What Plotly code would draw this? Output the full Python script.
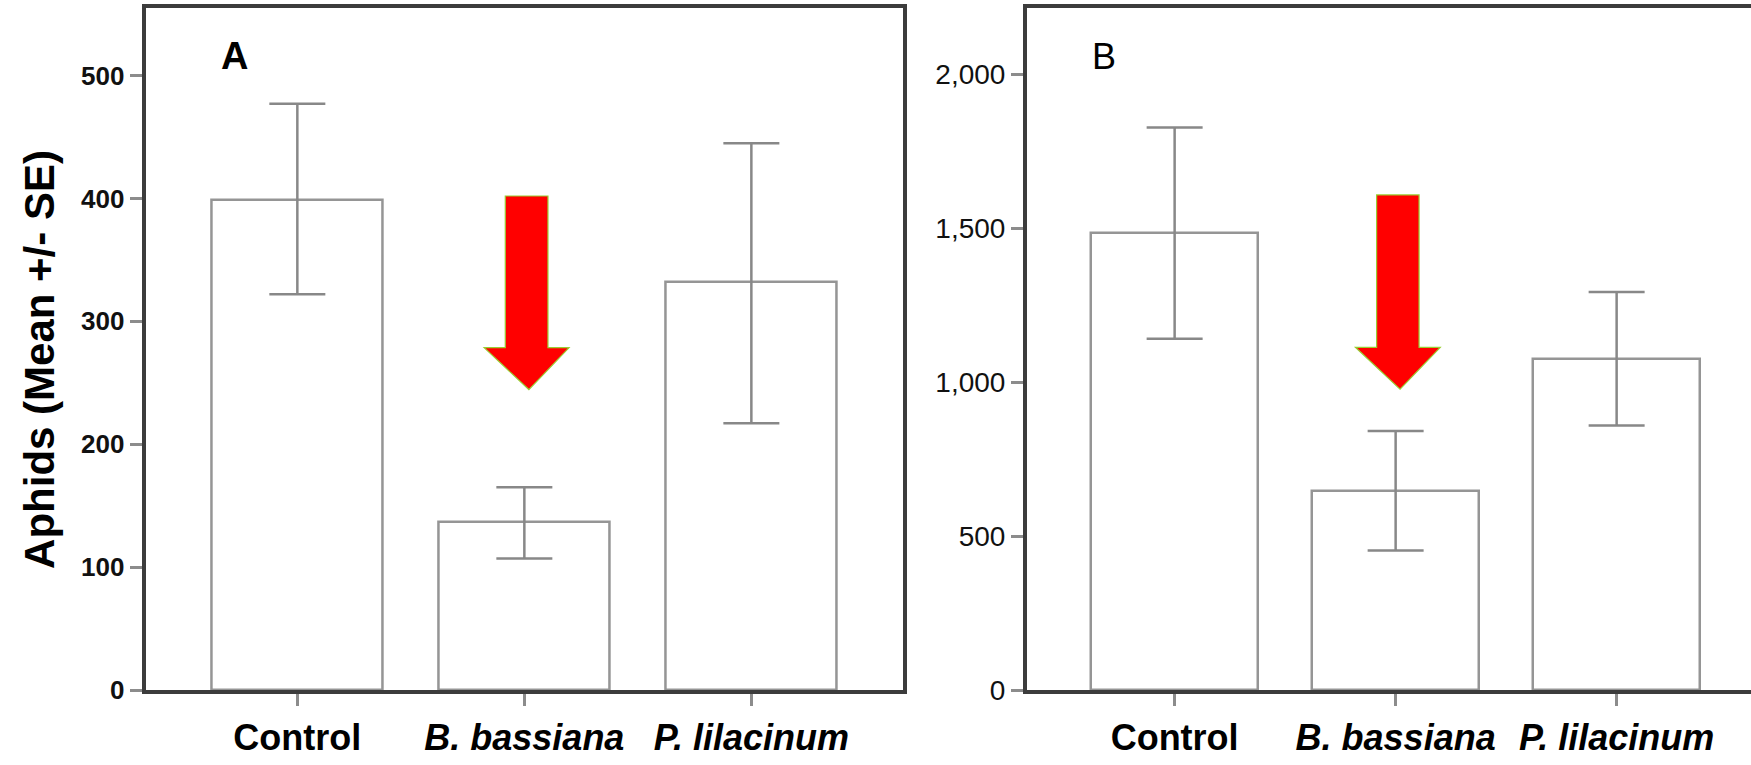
import plotly.graph_objects as go

# ---- data ----
categories = ["Control", "<i>B. bassiana</i>", "<i>P. lilacinum</i>"]
cat_pos = [0, 1, 2]

a_mean = [399, 137, 332]
a_upper = [477, 165, 445]
a_lower = [322, 107, 217]

b_mean = [1485, 645, 1076]
b_upper = [1827, 841, 1293]
b_lower = [1141, 453, 859]

a_ticks = [0, 100, 200, 300, 400, 500]
b_ticks = [0, 500, 1000, 1500, 2000]

W, H = 1751, 765
M_T, M_B = 8, 75

GRAY = "#959595"
AXIS = "#3c3c3c"
FONT = "Liberation Sans, Arial, sans-serif"

fig = go.Figure()

def add_panel(mean, upper, lower, xa, ya):
    fig.add_trace(go.Bar(
        x=cat_pos, y=mean, width=0.755,
        marker=dict(color="white", line=dict(color=GRAY, width=2.5)),
        error_y=dict(type="data", symmetric=False,
                     array=[u - m for u, m in zip(upper, mean)],
                     arrayminus=[m - l for m, l in zip(mean, lower)],
                     color="#888888", thickness=2.5, width=28),
        xaxis=xa, yaxis=ya, showlegend=False))

add_panel(a_mean, a_upper, a_lower, "x", "y")
add_panel(b_mean, b_upper, b_lower, "x2", "y2")

xcommon = dict(tickvals=cat_pos, ticktext=categories, showline=True, linewidth=4,
               linecolor=AXIS, ticks="outside", ticklen=12, tickwidth=2.5, tickcolor="#8c8c8c",
               showgrid=False, zeroline=False, automargin=False, ticklabelstandoff=1,
               tickfont=dict(family=FONT, size=36, color="black", weight="bold"))
ycommon = dict(showline=True, linewidth=4, linecolor=AXIS, ticks="outside", ticklen=12,
               tickwidth=2.5, tickcolor="#8c8c8c", showgrid=False, zeroline=False,
               automargin=False, ticklabelstandoff=0)

fig.update_layout(
    width=W, height=H,
    margin=dict(l=0, r=0, t=M_T, b=M_B),
    paper_bgcolor="white", plot_bgcolor="white",
    bargap=0,
    xaxis=dict(domain=[145.7 / W, 903 / W], range=[-0.668, 2.668], mirror=True, **xcommon),
    yaxis=dict(domain=[0, 1], range=[0, 555], tickvals=a_ticks, mirror=True,
               tickfont=dict(family=FONT, size=26, color="#111", weight="bold"), **ycommon),
    xaxis2=dict(domain=[1027 / W, 1.0], range=[-0.668, 2.608], mirror=True, anchor="y2", **xcommon),
    yaxis2=dict(domain=[0, 1], range=[0, 2215], tickvals=b_ticks, tickformat=",d", mirror=False,
                anchor="x2",
                tickfont=dict(family="Liberation Sans Narrow, " + FONT, size=28, color="#111"),
                **ycommon),
)

# arrows (data coordinates relative to B. bassiana bar)
def arrow(xref, yref, cx, shaft_hw, head_hw, y_top, y_head, y_tip):
    path = (f"M {cx - shaft_hw},{y_top} L {cx + shaft_hw},{y_top} L {cx + shaft_hw},{y_head} "
            f"L {cx + head_hw},{y_head} L {cx + 0.01},{y_tip} L {cx - head_hw},{y_head} "
            f"L {cx - shaft_hw},{y_head} Z")
    fig.add_shape(type="path", path=path, xref=xref, yref=yref,
                  fillcolor="#ff0000", line=dict(color="#9acd32", width=1.2), layer="above")

arrow("x", "y", 1.01, 0.094, 0.187, 402, 278.6, 244.5)
arrow("x2", "y2", 1.01, 0.096, 0.192, 1608, 1113, 977)

# y axis title and panel letters
fig.add_annotation(text="<b>Aphids (Mean +/- SE)</b>", xref="paper", yref="paper",
                   x=40 / W, y=0.484, textangle=-90, showarrow=False,
                   font=dict(family=FONT, size=42, color="black"), xanchor="center", yanchor="middle")
fig.add_annotation(text="<b>A</b>", xref="paper", yref="paper", x=234 / W, y=(690 - 56) / 682,
                   showarrow=False, font=dict(family=FONT, size=38, color="black"),
                   xanchor="center", yanchor="middle")
fig.add_annotation(text="B", xref="paper", yref="paper", x=1104 / W, y=(690 - 56) / 682,
                   showarrow=False, font=dict(family="Liberation Sans Narrow, " + FONT, size=36, color="black"),
                   xanchor="center", yanchor="middle")

fig.write_html("out.html")
